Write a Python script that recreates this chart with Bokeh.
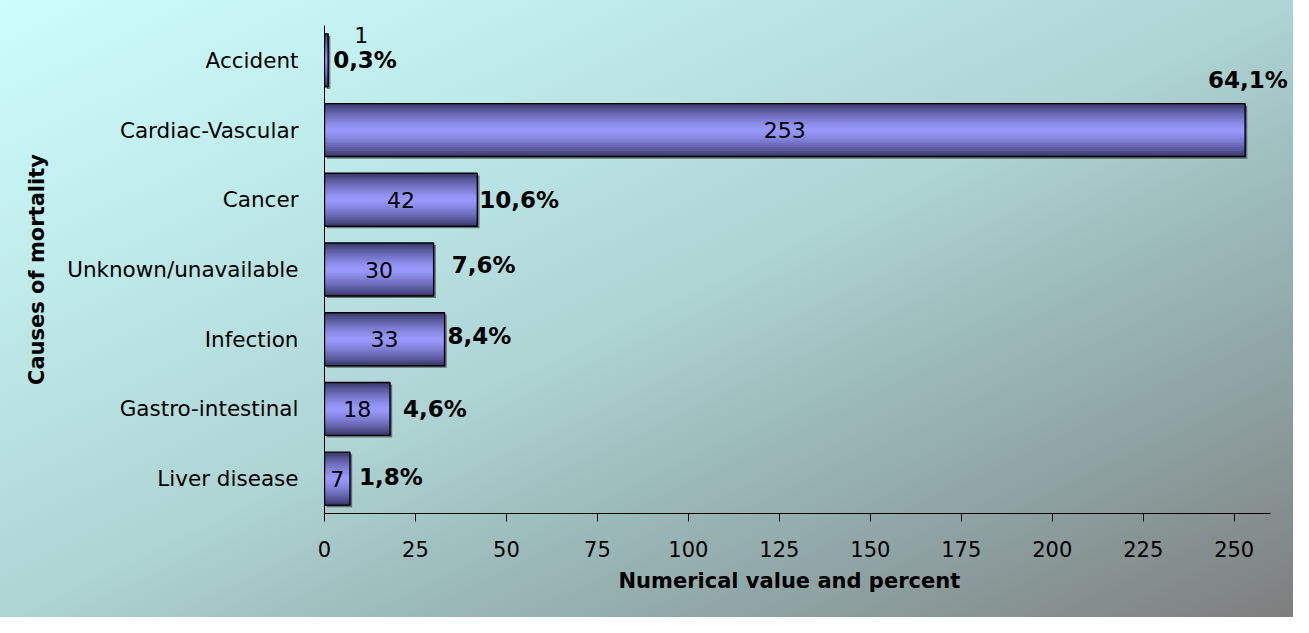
from bokeh.plotting import figure
from bokeh.models import ColumnDataSource, FactorRange, Range1d, FixedTicker, LabelSet, Title
from bokeh.transform import dodge
from bokeh.core.properties import value
from bokeh.embed import file_html
from bokeh.resources import INLINE

# ---- data ----
causes = ["Accident", "Cardiac-Vascular", "Cancer", "Unknown/unavailable",
          "Infection", "Gastro-intestinal", "Liver disease"]
counts = [1, 253, 42, 30, 33, 18, 7]
percents = ["0,3%", "64,1%", "10,6%", "7,6%", "8,4%", "4,6%", "1,8%"]
x_ticks = [0, 25, 50, 75, 100, 125, 150, 175, 200, 225, 250]

# ---- label placement (pixels, styling only; positive dy = upward) ----
pct_dx = [5, -37, 2, 18, 3, 13, 9]
pct_dy = [0, 50, 0, 5, 3, 0, 2]
val_dx = [35, 0, 0, 0, 0, 0, 0]
val_dy = [-25, 0, 0, 0, 0, 0, 0]

src = ColumnDataSource(dict(
    cause=causes, count=counts, half=[c / 2 for c in counts],
    pct=percents, val=[str(c) for c in counts],
    pdx=pct_dx, pdy=pct_dy, vdx=val_dx, vdy=val_dy,
))

W, H = 1293, 617
p = figure(width=W, height=H, output_backend="svg", toolbar_location=None,
           y_range=FactorRange(factors=list(reversed(causes)), range_padding=0),
           x_range=Range1d(0, 266.3),
           min_border_left=324, min_border_right=0, min_border_top=25, min_border_bottom=104)
p.background_fill_color = None
p.border_fill_color = None
p.outline_line_color = None
p.styles = {"background-image": "linear-gradient(to bottom right, #cdfdfd 0%, #bfeaea 25%, #aed4d4 50%, #9cbaba 65%, #8ea2a2 80%, #7e7e7e 100%)"}
p.xgrid.grid_line_color = None
p.ygrid.grid_line_color = None

# shadow
p.hbar(y=dodge("cause", -0.03, range=p.y_range), left=0.6, right=dodge("count", 0.6),
       height=0.76, source=src, fill_color="#222222", fill_alpha=0.55, line_color=None)

# gradient bar layers
def mix(c1, c2, t):
    return "#%02x%02x%02x" % tuple(int(round(a + (b - a) * t)) for a, b in zip(c1, c2))

light = (154, 154, 255)
dark = (60, 60, 112)
BH = 0.76
N = 14
for k in range(N):
    frac = 1 - k / N
    col = mix(light, dark, frac ** 1.4)
    p.hbar(y="cause", left=0, right="count", height=BH * frac, source=src,
           fill_color=col, line_color=None)
# outline
p.hbar(y="cause", left=0, right="count", height=BH, source=src,
       fill_color=None, line_color="black", line_width=1.4)

# value labels
p.text(x="half", y="cause", text="val", source=src, x_offset="vdx", y_offset="vdy",
       text_align="center", text_baseline="middle",
       text_font=value("DejaVu Sans"), text_font_size="22px", text_color="black")
# percent labels
pct_labels = LabelSet(x="count", y="cause", text="pct", source=src,
                      x_offset="pdx", y_offset="pdy",
                      text_align="left", text_baseline="middle",
                      text_font=value("DejaVu Sans"), text_font_style="bold",
                      text_font_size="23px", text_color="black")
p.add_layout(pct_labels)

# axes
xa = p.xaxis[0]
xa.ticker = FixedTicker(ticks=x_ticks)
xa.bounds = (0, 260)
xa.major_label_text_font = "DejaVu Sans"
xa.major_label_text_font_size = "21px"
xa.major_label_text_color = "black"
xa.major_label_standoff = 19
xa.major_tick_out = 8
xa.major_tick_in = 0
xa.minor_tick_line_color = None
xa.axis_line_color = "black"
xa.major_tick_line_color = "black"

xtitle = Title(text="Numerical value and percent", align="left", offset=294,
               text_font="DejaVu Sans", text_font_style="bold", text_font_size="21px",
               text_color="black", standoff=14)
p.add_layout(xtitle, "below")

ya = p.yaxis[0]
ya.axis_label = "Causes of mortality"
ya.axis_label_text_font = "DejaVu Sans"
ya.axis_label_text_font_style = "bold"
ya.axis_label_text_font_size = "21px"
ya.axis_label_text_color = "black"
ya.axis_label_standoff = 15
ya.major_label_text_font = "DejaVu Sans"
ya.major_label_text_font_size = "21.5px"
ya.major_label_text_color = "black"
ya.major_label_standoff = 20
ya.major_tick_line_color = None
ya.minor_tick_line_color = None
ya.axis_line_color = "black"

open("out.html", "w").write(file_html(p, INLINE))
